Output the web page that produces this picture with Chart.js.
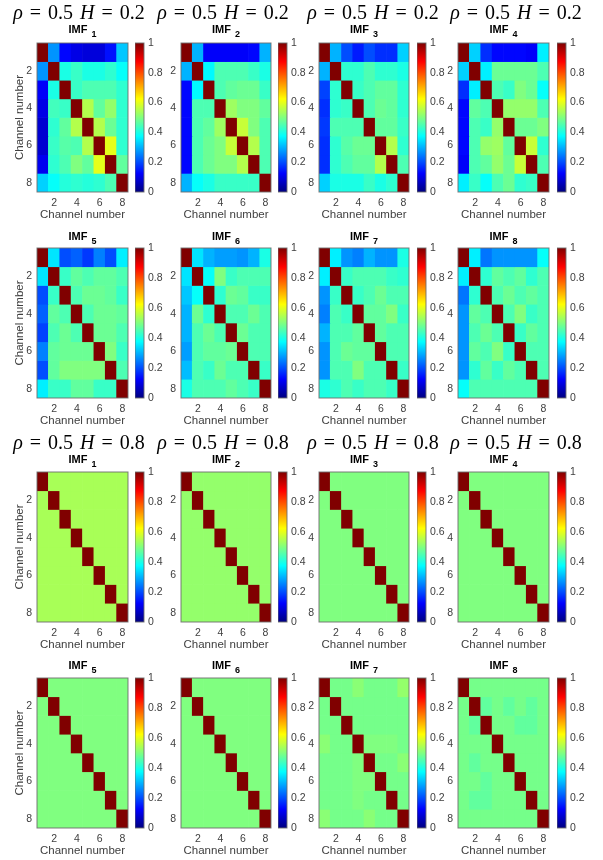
<!DOCTYPE html>
<html>
<head>
<meta charset="utf-8">
<script src="https://cdn.jsdelivr.net/npm/chart.js@4"></script>
<style>
  body { margin: 0; background: #fff; }
  #fig { position: relative; width: 603px; height: 860px; overflow: hidden; background: #fff; }
  canvas { position: absolute; }
  .sup { position: absolute; width: 170px; text-align: center; font-family: "Liberation Serif", serif;
         font-size: 20px; line-height: 1; color: #000; white-space: nowrap; word-spacing: 2px; }
  .imf { position: absolute; text-align: center; font-family: "Liberation Sans", Arial, sans-serif;
         font-weight: bold; font-size: 11px; line-height: 1; color: #000; white-space: nowrap; }
  .imf sub { font-size: 9px; vertical-align: -4px; margin-left: 1px; }
</style>
</head>
<body>
<div id="fig"></div>
<script>
// channel axis
const channels = ['1', '2', '3', '4', '5', '6', '7', '8'];
const xTickLabels = ['2', '4', '6', '8'];
const yTickValues = [2, 4, 6, 8];
const colorbarTicks = [0, 0.2, 0.4, 0.6, 0.8, 1];
const superTitles = ['ρ = 0.5 H = 0.2', 'ρ = 0.5 H = 0.8'];
const imfNames = ['1', '2', '3', '4', '5', '6', '7', '8'];

// rho = 0.5, H = 0.2
const h02Imf1 = [
    [1, .27, .13, .10, .09, .09, .14, .32],
    [.27, 1, .40, .43, .40, .40, .42, .38],
    [.12, .40, 1, .43, .45, .45, .45, .42],
    [.10, .44, .43, 1, .55, .47, .52, .42],
    [.08, .42, .47, .55, 1, .55, .48, .42],
    [.08, .43, .46, .45, .55, 1, .60, .42],
    [.11, .42, .45, .50, .47, .60, 1, .47],
    [.33, .38, .41, .42, .41, .42, .45, 1]
];
const h02Imf2 = [
    [1, .30, .12, .12, .12, .12, .13, .30],
    [.30, 1, .37, .45, .45, .45, .43, .40],
    [.13, .37, 1, .45, .47, .48, .48, .43],
    [.13, .45, .45, 1, .53, .50, .50, .47],
    [.13, .45, .47, .53, 1, .57, .50, .45],
    [.13, .45, .48, .50, .57, 1, .55, .45],
    [.13, .45, .48, .50, .50, .55, 1, .45],
    [.30, .38, .40, .43, .43, .43, .43, 1]
];
const h02Imf3 = [
    [1, .30, .20, .15, .20, .17, .17, .33],
    [.30, 1, .42, .42, .45, .42, .42, .40],
    [.19, .42, 1, .43, .45, .47, .47, .42],
    [.17, .42, .43, 1, .45, .48, .47, .42],
    [.18, .45, .45, .45, 1, .47, .47, .43],
    [.17, .42, .46, .48, .48, 1, .55, .42],
    [.17, .42, .45, .47, .47, .55, 1, .45],
    [.33, .40, .40, .40, .43, .40, .42, 1]
];
const h02Imf4 = [
    [1, .33, .17, .13, .13, .13, .12, .36],
    [.33, 1, .36, .48, .48, .48, .48, .45],
    [.17, .36, 1, .45, .43, .50, .48, .38],
    [.13, .47, .45, 1, .52, .52, .52, .45],
    [.13, .45, .43, .52, 1, .48, .48, .50],
    [.13, .45, .52, .53, .47, 1, .57, .42],
    [.12, .45, .47, .52, .48, .57, 1, .45],
    [.36, .43, .38, .45, .48, .42, .43, 1]
];
const h02Imf5 = [
    [1, .35, .20, .22, .18, .25, .20, .36],
    [.35, 1, .43, .47, .45, .47, .47, .45],
    [.20, .43, 1, .45, .48, .48, .47, .43],
    [.22, .47, .45, 1, .45, .48, .48, .47],
    [.19, .45, .48, .45, 1, .48, .48, .45],
    [.25, .47, .48, .48, .48, 1, .50, .43],
    [.20, .47, .50, .50, .50, .50, 1, .45],
    [.36, .43, .43, .47, .47, .43, .43, 1]
];
const h02Imf6 = [
    [1, .35, .30, .28, .28, .27, .30, .40],
    [.35, 1, .38, .50, .43, .45, .45, .45],
    [.32, .38, 1, .42, .48, .47, .43, .43],
    [.30, .48, .42, 1, .45, .45, .48, .45],
    [.30, .45, .48, .45, 1, .48, .45, .45],
    [.28, .45, .47, .47, .48, 1, .45, .45],
    [.31, .45, .43, .48, .45, .45, 1, .43],
    [.40, .45, .45, .45, .47, .45, .43, 1]
];
const h02Imf7 = [
    [1, .36, .27, .25, .30, .27, .27, .40],
    [.36, 1, .43, .45, .45, .45, .43, .42],
    [.27, .43, 1, .43, .45, .48, .45, .45],
    [.25, .45, .43, 1, .47, .47, .50, .43],
    [.30, .45, .45, .47, 1, .47, .45, .45],
    [.27, .45, .48, .47, .47, 1, .45, .45],
    [.27, .45, .45, .50, .45, .45, 1, .43],
    [.40, .42, .45, .43, .45, .45, .43, 1]
];
const h02Imf8 = [
    [1, .36, .24, .27, .27, .27, .27, .38],
    [.36, 1, .42, .47, .45, .47, .42, .45],
    [.24, .42, 1, .45, .48, .45, .47, .45],
    [.27, .47, .45, 1, .45, .50, .43, .45],
    [.27, .45, .48, .45, 1, .43, .47, .45],
    [.27, .47, .45, .50, .43, 1, .45, .45],
    [.27, .42, .47, .43, .47, .45, 1, .45],
    [.38, .45, .45, .45, .45, .45, .45, 1]
];

// rho = 0.5, H = 0.8
const h08Imf1 = [
    [1, .54, .54, .54, .54, .54, .54, .54],
    [.54, 1, .54, .54, .54, .54, .54, .54],
    [.54, .54, 1, .54, .54, .54, .54, .54],
    [.54, .54, .54, 1, .54, .54, .54, .54],
    [.54, .54, .54, .54, 1, .54, .54, .54],
    [.54, .54, .54, .54, .54, 1, .54, .54],
    [.54, .54, .54, .54, .54, .54, 1, .54],
    [.54, .54, .54, .54, .54, .54, .54, 1]
];
const h08Imf2 = [
    [1, .52, .52, .52, .52, .52, .52, .52],
    [.52, 1, .52, .52, .52, .52, .52, .52],
    [.52, .52, 1, .52, .52, .52, .52, .52],
    [.52, .52, .52, 1, .52, .52, .52, .52],
    [.52, .52, .52, .52, 1, .52, .52, .52],
    [.52, .52, .52, .52, .52, 1, .52, .52],
    [.52, .52, .52, .52, .52, .52, 1, .52],
    [.52, .52, .52, .52, .52, .52, .52, 1]
];
const h08Imf3 = [
    [1, .50, .50, .50, .50, .50, .50, .50],
    [.50, 1, .50, .50, .50, .50, .50, .50],
    [.50, .50, 1, .50, .50, .50, .50, .50],
    [.50, .50, .50, 1, .50, .50, .50, .50],
    [.50, .50, .50, .50, 1, .50, .50, .50],
    [.50, .50, .50, .50, .50, 1, .50, .50],
    [.50, .50, .50, .50, .50, .50, 1, .50],
    [.50, .50, .50, .50, .50, .50, .50, 1]
];
const h08Imf4 = [
    [1, .50, .50, .50, .50, .50, .50, .50],
    [.50, 1, .50, .50, .50, .50, .50, .50],
    [.50, .50, 1, .50, .50, .50, .50, .50],
    [.50, .50, .50, 1, .50, .50, .50, .50],
    [.50, .50, .50, .50, 1, .50, .50, .50],
    [.50, .50, .50, .50, .50, 1, .50, .50],
    [.50, .50, .50, .50, .50, .50, 1, .50],
    [.50, .50, .50, .50, .50, .50, .50, 1]
];
const h08Imf5 = [
    [1, .50, .50, .50, .50, .50, .50, .50],
    [.50, 1, .50, .50, .50, .50, .50, .50],
    [.50, .50, 1, .50, .50, .50, .50, .50],
    [.50, .50, .50, 1, .50, .50, .50, .50],
    [.50, .50, .50, .50, 1, .50, .50, .50],
    [.50, .50, .50, .50, .50, 1, .50, .50],
    [.50, .50, .50, .50, .50, .50, 1, .50],
    [.50, .50, .50, .50, .50, .50, .50, 1]
];
const h08Imf6 = [
    [1, .50, .50, .50, .50, .50, .50, .50],
    [.50, 1, .50, .50, .50, .50, .50, .50],
    [.50, .50, 1, .50, .50, .50, .50, .50],
    [.50, .50, .50, 1, .50, .50, .50, .50],
    [.50, .50, .50, .50, 1, .50, .50, .50],
    [.50, .50, .50, .50, .50, 1, .50, .50],
    [.50, .50, .50, .50, .50, .50, 1, .50],
    [.50, .50, .50, .50, .50, .50, .50, 1]
];
const h08Imf7 = [
    [1, .49, .49, .51, .49, .49, .49, .52],
    [.49, 1, .49, .49, .49, .49, .49, .49],
    [.49, .49, 1, .49, .49, .49, .49, .49],
    [.51, .49, .49, 1, .50, .50, .50, .49],
    [.49, .49, .49, .50, 1, .49, .49, .51],
    [.49, .49, .49, .50, .50, 1, .49, .49],
    [.49, .49, .49, .50, .49, .49, 1, .49],
    [.51, .49, .49, .49, .51, .49, .49, 1]
];
const h08Imf8 = [
    [1, .49, .49, .49, .49, .49, .49, .49],
    [.49, 1, .47, .49, .47, .49, .47, .49],
    [.49, .47, 1, .49, .49, .47, .47, .49],
    [.49, .49, .49, 1, .49, .49, .49, .49],
    [.49, .47, .49, .49, 1, .49, .49, .49],
    [.49, .49, .47, .49, .49, 1, .49, .49],
    [.49, .47, .47, .49, .49, .49, 1, .49],
    [.49, .49, .49, .49, .49, .49, .49, 1]
];

const blocks = [
    [h02Imf1, h02Imf2, h02Imf3, h02Imf4, h02Imf5, h02Imf6, h02Imf7, h02Imf8],
    [h08Imf1, h08Imf2, h08Imf3, h08Imf4, h08Imf5, h08Imf6, h08Imf7, h08Imf8]
];

// layout (pixels)
const heatCols = [[37, 128], [181, 271], [319, 409], [458, 549]];
const barCols = [[135, 144], [278, 287], [417, 426], [557, 566]];
const rowsY = [[43, 192], [248, 398], [472, 622], [678, 828]];
const supCenters = [79, 223, 373, 516];
const supY = [13, 443];
const imfY = [30, 237, 460, 666];

const textColor = '#404040';
Chart.defaults.font.family = '"Liberation Sans", Arial, sans-serif';
Chart.defaults.color = textColor;

function jet(v) {
    const c = x => Math.max(0, Math.min(1, x));
    const r = c(1.5 - Math.abs(4 * v - 3));
    const g = c(1.5 - Math.abs(4 * v - 2));
    const b = c(1.5 - Math.abs(4 * v - 1));
    return `rgb(${Math.round(r * 255)},${Math.round(g * 255)},${Math.round(b * 255)})`;
}
const jetStops = [0, 0.125, 0.375, 0.625, 0.875, 1];

const boxPlugin = {
    id: 'box',
    afterDatasetsDraw(chart) {
        const { ctx, chartArea: a } = chart;
        ctx.save();
        ctx.strokeStyle = 'rgba(110,110,110,0.9)';
        ctx.lineWidth = 1;
        ctx.strokeRect(a.left, a.top, a.right - a.left, a.bottom - a.top);
        ctx.restore();
    }
};

const fig = document.getElementById('fig');

function addCanvas(left, top, w, h) {
    const cv = document.createElement('canvas');
    cv.width = w; cv.height = h;
    cv.style.left = left + 'px'; cv.style.top = top + 'px';
    cv.style.width = w + 'px'; cv.style.height = h + 'px';
    fig.appendChild(cv);
    return cv;
}

function drawHeatmap(matrix, col, row) {
    const [x0, x1] = heatCols[col];
    const [y0, y1] = rowsY[row];
    const first = col === 0;
    const L = first ? x0 : 25, T = 8, R = 8, B = 30;
    const cv = addCanvas(x0 - L, y0 - T, L + (x1 - x0) + R, T + (y1 - y0) + B);

    const datasets = matrix.map((vals, r) => ({
        data: vals.map(() => [r + 0.5, r + 1.5]),
        backgroundColor: vals.map(jet),
        borderWidth: 0
    }));

    new Chart(cv, {
        type: 'bar',
        data: { labels: channels, datasets },
        options: {
            responsive: false,
            animation: false,
            layout: { padding: { top: T, right: R, left: 0, bottom: 0 } },
            plugins: { legend: { display: false }, tooltip: { enabled: false } },
            datasets: { bar: { barPercentage: 1, categoryPercentage: 1, grouped: false } },
            scales: {
                x: {
                    grid: { display: false, drawTicks: false },
                    border: { display: false },
                    ticks: {
                        padding: 5, maxRotation: 0, autoSkip: false, font: { size: 10.5 },
                        callback: (v, i) => xTickLabels.includes(channels[i]) ? channels[i] : ''
                    },
                    title: { display: true, text: 'Channel number', font: { size: 11.5 }, padding: 0 },
                    afterFit(s) { s.height = B; s.paddingLeft = 0; s.paddingRight = 0; }
                },
                y: {
                    type: 'linear', reverse: true, min: 0.5, max: 8.5,
                    grid: { display: false, drawTicks: false },
                    border: { display: false },
                    ticks: { padding: 5, font: { size: 10.5 } },
                    afterBuildTicks(s) { s.ticks = yTickValues.map(v => ({ value: v })); },
                    title: { display: first, text: 'Channel number', font: { size: 11.5 }, padding: { top: 13, bottom: 0 } },
                    afterFit(s) { s.width = L; s.paddingTop = 0; s.paddingBottom = 0; }
                }
            }
        },
        plugins: [boxPlugin]
    });
}

function drawColorbar(col, row) {
    const [x0, x1] = barCols[col];
    const [y0, y1] = rowsY[row];
    const W = 26, T = 8;
    const cv = addCanvas(x0, y0 - T, (x1 - x0) + W, (y1 - y0) + 2 * T);
    new Chart(cv, {
        type: 'bar',
        data: {
            labels: ['scale'],
            datasets: [{
                data: [[0, 1]],
                borderWidth: 0,
                backgroundColor(ctx) {
                    const a = ctx.chart.chartArea;
                    if (!a) return '#000';
                    const g = ctx.chart.ctx.createLinearGradient(0, a.bottom, 0, a.top);
                    jetStops.forEach(s => g.addColorStop(s, jet(s)));
                    return g;
                }
            }]
        },
        options: {
            responsive: false,
            animation: false,
            layout: { padding: { top: T, bottom: T, left: 0, right: 0 } },
            plugins: { legend: { display: false }, tooltip: { enabled: false } },
            datasets: { bar: { barPercentage: 1, categoryPercentage: 1 } },
            scales: {
                x: { display: false },
                y: {
                    position: 'right', min: 0, max: 1,
                    grid: { display: false, drawTicks: false },
                    border: { display: false },
                    ticks: { padding: 4, font: { size: 10.5 }, callback: v => String(+v.toFixed(1)) },
                    afterBuildTicks(s) { s.ticks = colorbarTicks.map(v => ({ value: v })); },
                    afterFit(s) { s.width = W; s.paddingTop = 0; s.paddingBottom = 0; }
                }
            }
        },
        plugins: [boxPlugin]
    });
}

function addText(cls, html, left, top, width) {
    const d = document.createElement('div');
    d.className = cls;
    d.innerHTML = html;
    d.style.left = left + 'px';
    d.style.top = top + 'px';
    if (width) d.style.width = width + 'px';
    fig.appendChild(d);
}

blocks.forEach((mats, b) => {
    mats.forEach((m, k) => {
        const row = b * 2 + Math.floor(k / 4);
        const col = k % 4;
        drawHeatmap(m, col, row);
        drawColorbar(col, row);
        const [x0, x1] = heatCols[col];
        addText('imf', `IMF <sub>${imfNames[k]}</sub>`, x0, imfY[row] - 6, x1 - x0);
        if (k < 4) {
            const parts = superTitles[b].split(' ');
            const html = `<i>${parts[0]}</i> ${parts[1]} ${parts[2]} <i>${parts[3]}</i> ${parts[4]} ${parts[5]}`;
            addText('sup', html, supCenters[col] - 85, supY[b] - 11);
        }
    });
});
</script>
</body>
</html>
